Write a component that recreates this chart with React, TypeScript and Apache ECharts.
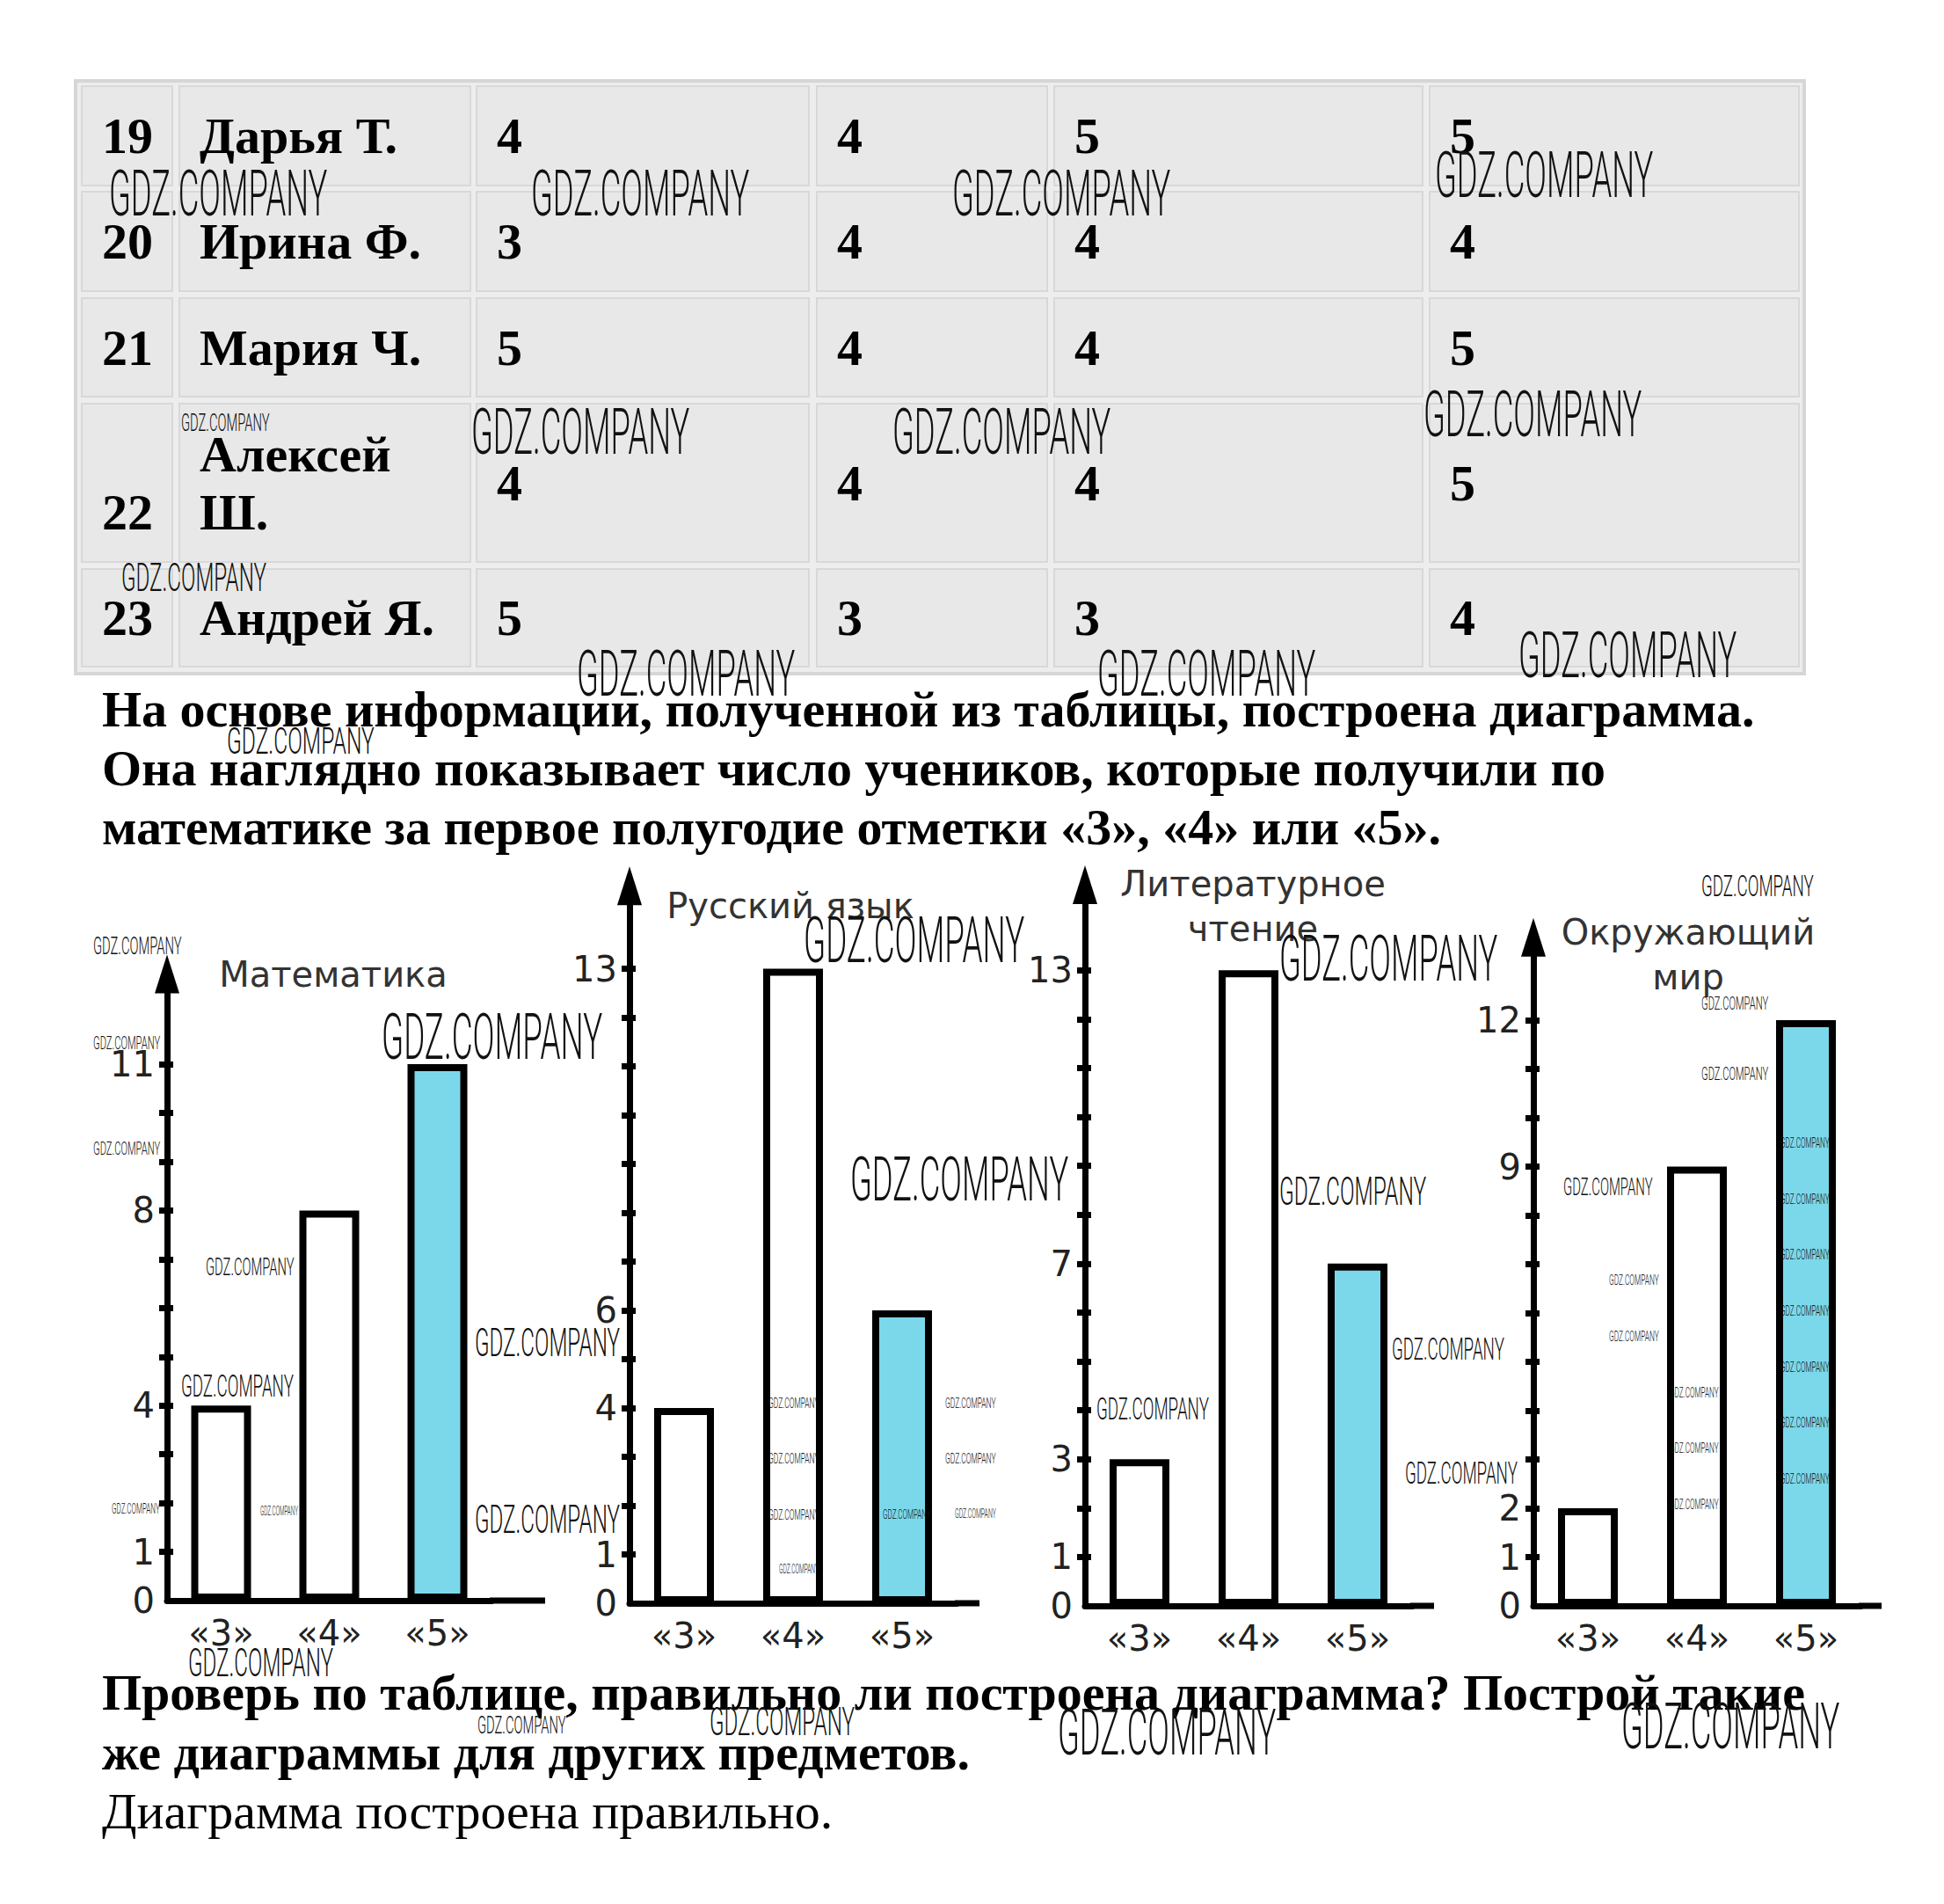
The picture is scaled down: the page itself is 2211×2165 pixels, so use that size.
import React, { useEffect, useRef } from 'react';
import * as echarts from 'echarts';

// ---------- data ----------
const gradeCategories = ['«3»', '«4»', '«5»'];
const mathCounts = [4, 8, 11];
const russianCounts = [4, 13, 6];
const literatureCounts = [3, 13, 7];
const worldCounts = [2, 9, 12];
const mathTickLabels = [0, 1, 4, 8, 11];
const russianTickLabels = [0, 1, 4, 6, 13];
const literatureTickLabels = [0, 1, 3, 7, 13];
const worldTickLabels = [0, 1, 2, 9, 12];
const chartTitles = [['Математика'], ['Русский язык'], ['Литературное', 'чтение'], ['Окружающий', 'мир']];

const rowNumbers = ['19', '20', '21', '22', '23'];
const studentNames = [['Дарья Т.'], ['Ирина Ф.'], ['Мария Ч.'], ['Алексей', 'Ш.'], ['Андрей Я.']];
const gradesCol1 = ['4', '3', '5', '4', '5'];
const gradesCol2 = ['4', '4', '4', '4', '3'];
const gradesCol3 = ['5', '4', '4', '4', '3'];
const gradesCol4 = ['5', '4', '5', '5', '4'];

const introLines = [
  'На основе информации, полученной из таблицы, построена диаграмма.',
  'Она наглядно показывает число учеников, которые получили по',
  'математике за первое полугодие отметки «3», «4» или «5».',
];
const questionLines = [
  'Проверь по таблице, правильно ли построена диаграмма? Построй такие',
  'же диаграммы для других предметов.',
];
const answerLine = 'Диаграмма построена правильно.';
const watermarkText = 'GDZ.COMPANY';

// ---------- layout ----------
const W = 2211;
const H = 2165;
const CYAN = '#7bd8ea';
const SANS = 'DejaVu Sans';
const SERIF = 'Liberation Serif';

const chartCounts = [mathCounts, russianCounts, literatureCounts, worldCounts];
const chartTickLabels = [mathTickLabels, russianTickLabels, literatureTickLabels, worldTickLabels];
const chartGeom = [
  { left: 190, baseline: 1820, unit: 55.45, max: 12.85, band: 123, xEnd: 620, titleX: 379, titleY: 1108 },
  { left: 716, baseline: 1823, unit: 55.5, max: 14.7, band: 124, xEnd: 1114, titleX: 899, titleY: 1030 },
  { left: 1234, baseline: 1826, unit: 55.6, max: 14.75, band: 124, xEnd: 1631, titleX: 1425, titleY: 1030 },
  { left: 1744, baseline: 1826, unit: 55.5, max: 13.7, band: 124, xEnd: 2140, titleX: 1920, titleY: 1085 },
];

const colX = [93, 204, 542, 929, 1199, 1626];
const colW = [103, 331, 378, 262, 419, 420];
const rowY = [98, 218, 339, 459, 647];
const rowH = [113, 113, 112, 180, 111];

// watermark boxes [left, top, width, capHeight]
const watermarks: number[][] = [
  [124, 197, 254, 51], [604, 197, 254, 51], [1083, 197, 254, 51], [1632, 176, 254, 51],
  [536, 468, 254, 51], [1015, 468, 254, 51], [1619, 448, 254, 51],
  [656, 743, 254, 51], [1248, 743, 254, 51], [1727, 722, 254, 51],
  [434, 1156, 257, 51], [914, 1046, 257, 51], [967, 1318, 254, 50], [1455, 1067, 254, 51],
  [1203, 1946, 254, 52], [1844, 1940, 254, 51],
  [138, 642, 169, 32], [258, 828, 172, 30], [214, 1876, 169, 32], [807, 1943, 169, 32],
  [1455, 1340, 171, 32], [540, 1512, 169, 32], [540, 1713, 169, 32],
  [206, 1565, 131, 25], [1583, 1523, 131, 25], [1598, 1664, 131, 25], [1247, 1591, 131, 25],
  [1935, 997, 131, 24], [1778, 1340, 104, 20], [234, 1431, 103, 20],
  [106, 1067, 103, 19], [206, 472, 103, 19], [543, 1953, 103, 19],
  [106, 1179, 78, 15], [106, 1299, 78, 15], [1935, 1134, 78, 15], [1935, 1214, 78, 15],
  [1830, 1450, 58, 12], [1830, 1514, 58, 12],
  [127, 1710, 56, 12], [296, 1714, 44, 10],
  [874, 1590, 59, 12], [874, 1653, 59, 12], [874, 1717, 59, 12], [886, 1780, 46, 10],
  [1075, 1590, 59, 12], [1075, 1653, 59, 12], [1004, 1717, 56, 11], [1086, 1717, 48, 10],
  [1899, 1578, 57, 12], [1899, 1641, 57, 12], [1899, 1705, 57, 12],
  [2025, 1294, 57, 12], [2025, 1358, 57, 12], [2025, 1421, 57, 12], [2025, 1485, 57, 12],
  [2025, 1549, 57, 12], [2025, 1612, 57, 12], [2025, 1676, 57, 12],
];

function buildOption() {
  const grid: any[] = [];
  const xAxis: any[] = [];
  const yAxis: any[] = [];
  const series: any[] = [];
  const graphic: any[] = [];

  // ---- table ----
  graphic.push({
    type: 'rect', z: 1,
    shape: { x: 86, y: 92, width: 1966, height: 674 },
    style: { fill: '#ededed', stroke: '#d6d6d6', lineWidth: 4 },
  });
  const columns = [rowNumbers, studentNames, gradesCol1, gradesCol2, gradesCol3, gradesCol4];
  for (let r = 0; r < rowY.length; r++) {
    for (let c = 0; c < colX.length; c++) {
      graphic.push({
        type: 'rect', z: 2,
        shape: { x: colX[c], y: rowY[r], width: colW[c], height: rowH[r] },
        style: { fill: '#e8e8e8', stroke: '#d8d8d8', lineWidth: 2 },
      });
      const cy = rowY[r] + rowH[r] / 2;
      const val: any = columns[c][r];
      const lines: string[] = Array.isArray(val) ? val : [val];
      const twoLineRow = studentNames[r].length > 1;
      let ty = cy;
      if (c === 0 && twoLineRow) ty = cy + 33;
      graphic.push({
        type: 'text', z: 3,
        x: colX[c] + 23, y: ty,
        style: {
          text: lines.join('\n'), fill: '#000', fontFamily: SERIF, fontWeight: 'bold', fontSize: 58,
          lineHeight: 66, align: 'left', verticalAlign: 'middle', textAlign: 'left', textVerticalAlign: 'middle',
        },
      });
    }
  }

  // ---- paragraph texts ----
  const introY = [806, 873, 940];
  introLines.forEach((t, i) => {
    graphic.push({
      type: 'text', z: 3, x: 116, y: introY[i],
      style: { text: t, fill: '#000', fontFamily: SERIF, fontWeight: 'bold', fontSize: 58,
        align: 'left', verticalAlign: 'middle', textAlign: 'left', textVerticalAlign: 'middle' },
    });
  });
  const questionY = [1924, 1992];
  questionLines.forEach((t, i) => {
    graphic.push({
      type: 'text', z: 3, x: 116, y: questionY[i],
      style: { text: t, fill: '#000', fontFamily: SERIF, fontWeight: 'bold', fontSize: 58,
        align: 'left', verticalAlign: 'middle', textAlign: 'left', textVerticalAlign: 'middle' },
    });
  });
  graphic.push({
    type: 'text', z: 3, x: 116, y: 2059,
    style: { text: answerLine, fill: '#000', fontFamily: SERIF, fontWeight: 'normal', fontSize: 58,
      align: 'left', verticalAlign: 'middle', textAlign: 'left', textVerticalAlign: 'middle' },
  });

  // ---- charts ----
  chartGeom.forEach((g, i) => {
    const height = g.max * g.unit;
    const top = g.baseline - height;
    const tickLabels = chartTickLabels[i];
    const topLabel = tickLabels[tickLabels.length - 1];
    const ticks: number[] = [];
    for (let v = 1; v <= topLabel; v++) ticks.push(v);

    grid.push({ left: g.left, top, width: 3 * g.band, height });
    xAxis.push({
      type: 'category', gridIndex: i, data: gradeCategories, boundaryGap: true,
      axisLine: { show: true, lineStyle: { color: '#000', width: 7 } },
      axisTick: { show: false },
      axisLabel: { fontSize: 40, color: '#222', fontFamily: SANS, margin: 17 },
      splitLine: { show: false },
    });
    // main y axis: line with arrow, outer ticks, labels
    yAxis.push({
      type: 'value', gridIndex: i, min: 0, max: g.max, interval: 1, position: 'left', offset: 0,
      axisLine: {
        show: true, onZero: false, symbol: ['none', 'triangle'], symbolSize: [28, 44],
        lineStyle: { color: '#000', width: 7 },
      },
      axisTick: { show: true, length: 9, customValues: ticks, lineStyle: { color: '#000', width: 7 } },
      axisLabel: { customValues: tickLabels, fontSize: 40, color: '#222', fontFamily: SANS, margin: 14 },
      splitLine: { show: false },
    });
    // companion y axis: inner half of the tick stubs
    yAxis.push({
      type: 'value', gridIndex: i, min: 0, max: g.max, interval: 1, position: 'left', offset: 0,
      axisLine: { show: false },
      axisTick: { show: true, inside: true, length: 7, customValues: ticks, lineStyle: { color: '#000', width: 7 } },
      axisLabel: { show: false },
      splitLine: { show: false },
    });
    series.push({
      type: 'bar', xAxisIndex: i, yAxisIndex: 2 * i, barWidth: 68, z: 3,
      data: chartCounts[i].map((v, k) => ({
        value: v,
        itemStyle: { color: k === 2 ? CYAN : '#fff', borderColor: '#000', borderWidth: 8 },
      })),
    });
    // x axis extension past the last band
    graphic.push({
      type: 'line', z: 5,
      shape: { x1: g.left + 3 * g.band - 2, y1: g.baseline, x2: g.xEnd, y2: g.baseline },
      style: { stroke: '#000', lineWidth: 7 },
    });
    graphic.push({
      type: 'text', z: 5, x: g.titleX, y: g.titleY,
      style: {
        text: chartTitles[i].join('\n'), fill: '#333', fontFamily: SANS, fontSize: 40, lineHeight: 51,
        align: 'center', verticalAlign: 'middle', textAlign: 'center', textVerticalAlign: 'middle',
      },
    });
  });

  // ---- watermarks ----
  watermarks.forEach(([x, y, w, h]) => {
    const fs = h / 0.711;
    const sx = w / (6.99 * fs);
    graphic.push({
      type: 'text', z: 100, x, y: y - fs * 0.17, scaleX: sx,
      style: {
        text: watermarkText, fill: '#111', fontFamily: 'Roboto', fontWeight: 300, fontSize: fs,
        align: 'left', verticalAlign: 'top', textAlign: 'left', textVerticalAlign: 'top',
      },
    });
  });

  return {
    animation: false,
    backgroundColor: '#ffffff',
    grid, xAxis, yAxis, series,
    graphic: { elements: graphic },
  };
}

export default function App() {
  const ref = useRef<HTMLDivElement>(null);
  useEffect(() => {
    if (!ref.current) return;
    const chart = echarts.init(ref.current, undefined, { renderer: 'svg', width: W, height: H });
    chart.setOption(buildOption() as any);
    return () => chart.dispose();
  }, []);
  return (
    <div
      ref={ref}
      style={{ position: 'absolute', left: 0, top: 0, width: W, height: H, background: '#fff' }}
    />
  );
}
